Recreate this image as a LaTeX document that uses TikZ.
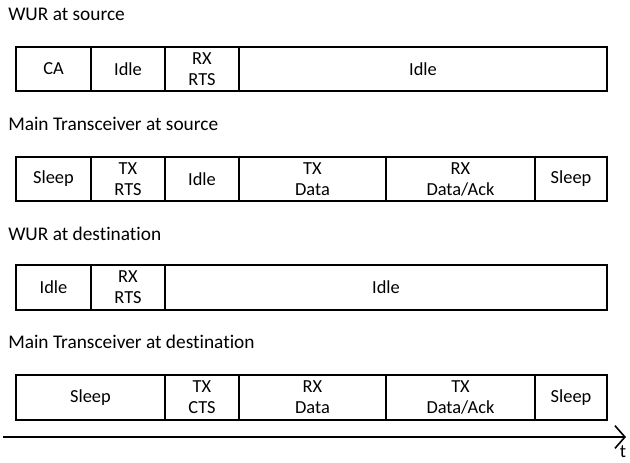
\documentclass[tikz,border=0pt]{standalone}
\usepackage{fontspec}
\setmainfont[Ligatures=NoCommon]{Carlito}
\usetikzlibrary{arrows.meta}
\begin{document}
\begin{tikzpicture}[x=0.75pt,y=-0.75pt,
  seg/.style={draw=black,line width=1.5pt,rectangle,inner sep=0pt,outer sep=0pt,
    align=center,font=\fontsize{13.8}{15.75}\selectfont},
  lane/.style={anchor=base west,inner sep=0pt,font=\fontsize{14.5}{16}\selectfont},
  axis/.style={line width=1.5pt,-{Straight Barb[length=7.5pt,width=17pt,line width=1.2pt]}}]
\useasboundingbox (0,0) rectangle (630,462);

% WUR at source
\node[lane] (l1) at (8,20) {WUR at source};
\begin{scope}[every node/.append style={minimum height=44*0.75pt}]
\node[seg,minimum width=75*0.75pt]  (a1) at (53.5,69) {CA};
\node[seg,minimum width=74*0.75pt]  (a2) at (128,69) {Idle};
\node[seg,minimum width=74*0.75pt]  (a3) at (202,69) {RX\\RTS};
\node[seg,minimum width=368*0.75pt] (a4) at (423,69) {Idle};
\end{scope}

% Main transceiver at source
\node[lane] (l2) at (8,130) {Main Transceiver at source};
\begin{scope}[every node/.append style={minimum height=44*0.75pt}]
\node[seg,minimum width=75*0.75pt]  (b1) at (53.5,179) {Sleep};
\node[seg,minimum width=74*0.75pt]  (b2) at (128,179) {TX\\RTS};
\node[seg,minimum width=74*0.75pt]  (b3) at (202,179) {Idle};
\node[seg,minimum width=147*0.75pt] (b4) at (312.5,179) {TX\\Data};
\node[seg,minimum width=149*0.75pt] (b5) at (460.5,179) {RX\\Data/Ack};
\node[seg,minimum width=72*0.75pt]  (b6) at (571,179) {Sleep};
\end{scope}

% WUR at destination
\node[lane] (l3) at (8,240) {WUR at destination};
\begin{scope}[every node/.append style={minimum height=45*0.75pt}]
\node[seg,minimum width=75*0.75pt]  (c1) at (53.5,287.5) {Idle};
\node[seg,minimum width=74*0.75pt]  (c2) at (128,287.5) {RX\\RTS};
\node[seg,minimum width=442*0.75pt] (c3) at (386,287.5) {Idle};
\end{scope}

% Main transceiver at destination
\node[lane] (l4) at (8,348) {Main Transceiver at destination};
\begin{scope}[every node/.append style={minimum height=45*0.75pt}]
\node[seg,minimum width=149*0.75pt] (d1) at (90.5,397.5) {Sleep};
\node[seg,minimum width=74*0.75pt]  (d2) at (202,397.5) {TX\\CTS};
\node[seg,minimum width=147*0.75pt] (d3) at (312.5,397.5) {RX\\Data};
\node[seg,minimum width=149*0.75pt] (d4) at (460.5,397.5) {TX\\Data/Ack};
\node[seg,minimum width=72*0.75pt]  (d5) at (571,397.5) {Sleep};
\end{scope}

% time axis
\coordinate (t0) at (3,437);
\coordinate (t1) at (626,437);
\draw[axis] (t0) -- (t1);
\node[inner sep=0pt,font=\fontsize{14}{16}\selectfont] (tl) at (623,451.5) {t};
\end{tikzpicture}
\end{document}
